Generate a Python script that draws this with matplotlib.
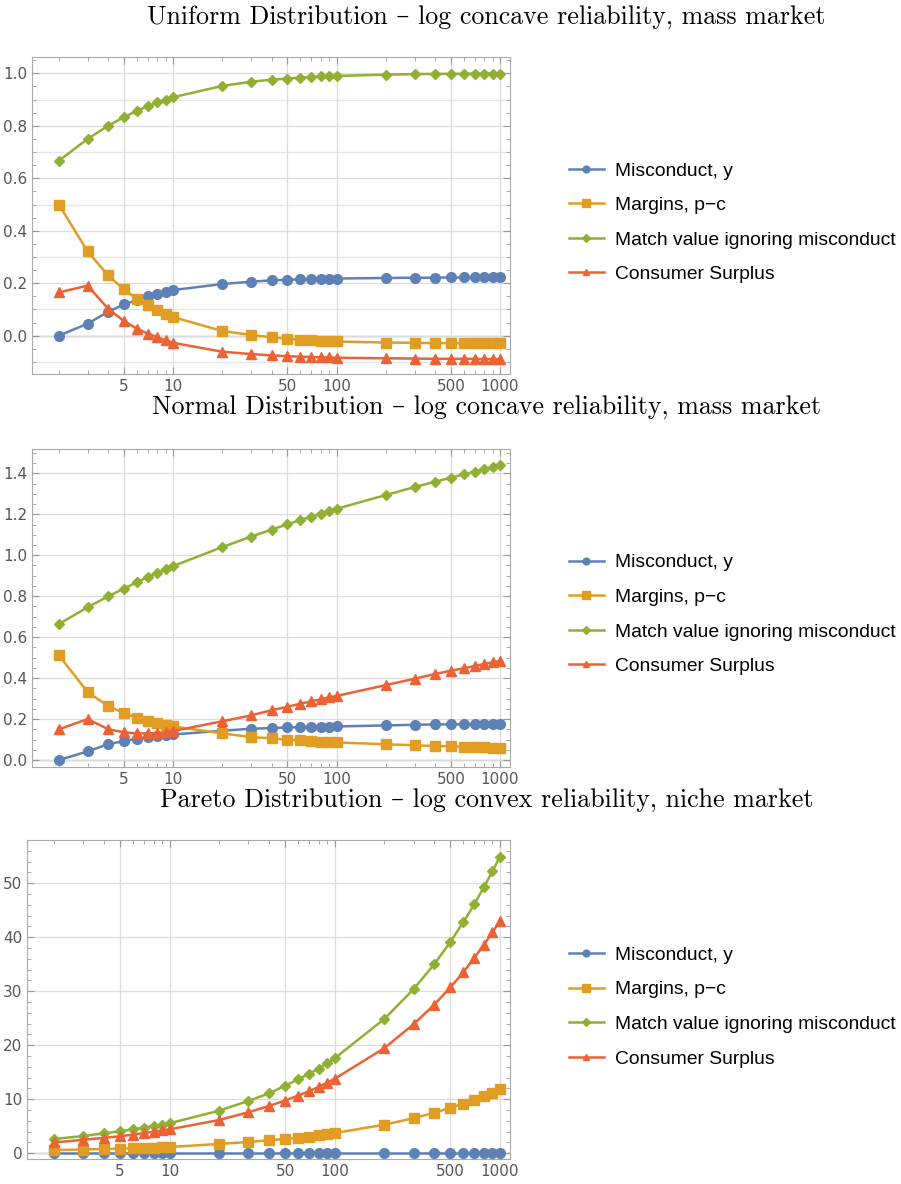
import matplotlib
matplotlib.use("Agg")
import matplotlib.pyplot as plt
from matplotlib.ticker import FixedLocator, NullFormatter, MultipleLocator

n = [2, 3, 4, 5, 6, 7, 8, 9, 10, 20, 30, 40, 50, 60, 70, 80, 90, 100,
     200, 300, 400, 500, 600, 700, 800, 900, 1000]

# Uniform distribution
uni_misconduct = [0.0, 0.046, 0.091, 0.119, 0.136, 0.150, 0.159, 0.166, 0.174, 0.197,
                  0.206, 0.211, 0.213, 0.215, 0.216, 0.217, 0.218, 0.218, 0.220,
                  0.221, 0.221, 0.222, 0.222, 0.222, 0.222, 0.222, 0.222]
uni_margins = [0.5, 0.321, 0.23, 0.177, 0.14, 0.117, 0.098, 0.083, 0.071, 0.018,
               0.003, -0.006, -0.012, -0.015, -0.018, -0.019, -0.021, -0.022, -0.026,
               -0.027, -0.028, -0.028, -0.029, -0.029, -0.029, -0.029, -0.029]
uni_match = [0.667, 0.75, 0.8, 0.833, 0.857, 0.875, 0.889, 0.9, 0.909, 0.952,
             0.968, 0.976, 0.980, 0.984, 0.986, 0.988, 0.989, 0.990, 0.995,
             0.997, 0.998, 0.998, 0.998, 0.999, 0.999, 0.999, 0.999]
uni_cs = [0.165, 0.191, 0.103, 0.056, 0.027, 0.008, -0.006, -0.018, -0.027, -0.061,
          -0.070, -0.075, -0.078, -0.080, -0.081, -0.082, -0.083, -0.084, -0.086,
          -0.087, -0.088, -0.088, -0.088, -0.088, -0.089, -0.089, -0.089]

# Normal distribution
nor_misconduct = [0.0, 0.042, 0.077, 0.093, 0.104, 0.111, 0.116, 0.120, 0.125, 0.143,
                  0.153, 0.156, 0.159, 0.161, 0.162, 0.163, 0.163, 0.164, 0.169,
                  0.172, 0.174, 0.174, 0.175, 0.175, 0.176, 0.176, 0.176]
nor_margins = [0.511, 0.332, 0.264, 0.230, 0.207, 0.190, 0.179, 0.171, 0.164, 0.130,
               0.112, 0.106, 0.099, 0.096, 0.093, 0.090, 0.088, 0.086, 0.077,
               0.072, 0.068, 0.067, 0.065, 0.063, 0.062, 0.060, 0.060]
nor_match = [0.664, 0.746, 0.799, 0.837, 0.868, 0.894, 0.913, 0.931, 0.947, 1.040,
             1.091, 1.125, 1.151, 1.172, 1.188, 1.203, 1.216, 1.227, 1.294,
             1.333, 1.359, 1.379, 1.395, 1.408, 1.420, 1.429, 1.439]
nor_cs = [0.150, 0.200, 0.151, 0.135, 0.130, 0.130, 0.132, 0.135, 0.142, 0.189,
          0.218, 0.243, 0.260, 0.275, 0.287, 0.296, 0.306, 0.313, 0.366,
          0.397, 0.420, 0.436, 0.448, 0.459, 0.469, 0.477, 0.485]

# Pareto distribution
par_misconduct = [0.0] * 27
par_margins = [0.6, 0.7, 0.8, 0.86, 0.93, 1.0, 1.05, 1.1, 1.17, 1.73,
               2.1, 2.4, 2.65, 2.9, 3.1, 3.33, 3.5, 3.75, 5.3,
               6.5, 7.5, 8.4, 9.2, 9.95, 10.6, 11.25, 11.85]
par_match = [2.65, 3.2, 3.7, 4.07, 4.44, 4.75, 5.06, 5.3, 5.56, 7.9,
             9.7, 11.1, 12.5, 13.7, 14.75, 15.7, 16.7, 17.6, 24.9,
             30.4, 35.0, 39.1, 42.8, 46.1, 49.3, 52.2, 54.9]
par_cs = [2.0, 2.5, 2.85, 3.15, 3.46, 3.77, 4.0, 4.26, 4.44, 6.17,
          7.6, 8.77, 9.75, 10.7, 11.5, 12.3, 13.1, 13.8, 19.5,
          23.9, 27.5, 30.7, 33.5, 36.2, 38.6, 40.9, 43.0]

labels = ["Misconduct, y", "Margins, p\u2212c", "Match value ignoring misconduct",
          "Consumer Surplus"]
titles = ["Uniform Distribution \u2013 log concave reliability, mass market",
          "Normal Distribution \u2013 log concave reliability, mass market",
          "Pareto Distribution \u2013 log convex reliability, niche market"]

colors = ["#5E81B5", "#E19C24", "#8FB032", "#EB6235"]
markers = ["o", "s", "D", "^"]
msizes = [7, 7.5, 5.5, 7]

fig = plt.figure(figsize=(9.01, 11.84), dpi=100)

panels = [
    ([0.0355, 0.6841, 0.5305, 0.2677], [uni_misconduct, uni_margins, uni_match, uni_cs],
     (-0.146, 1.062), 0.2, 0.05, 0.812),
    ([0.0355, 0.3522, 0.5305, 0.2686], [nor_misconduct, nor_margins, nor_match, nor_cs],
     (-0.034, 1.519), 0.2, 0.05, 0.481),
    ([0.0300, 0.0211, 0.5360, 0.2694], [par_misconduct, par_margins, par_match, par_cs],
     (-1.06, 58.0), 10, 2, 0.1495),
]
title_y = [0.9856, 0.656, 0.324]

xmaj = [5, 10, 50, 100, 500, 1000]
xmin = [2, 3, 4, 6, 7, 8, 9, 20, 30, 40, 60, 70, 80, 90, 200, 300, 400, 600, 700, 800, 900]

for i, (pos, series, ylim, ymaj, yminor, leg_y) in enumerate(panels):
    ax = fig.add_axes(pos)
    handles = []
    for s, c, m, ms, lab in zip(series, colors, markers, msizes, labels):
        h, = ax.plot(n, s, color=c, marker=m, markersize=ms, linewidth=1.8,
                     label=lab, zorder=3, clip_on=False)
        handles.append(h)
    ax.set_xscale("log")
    ax.set_xlim(1.37, 1150)
    ax.set_ylim(*ylim)
    ax.xaxis.set_major_locator(FixedLocator(xmaj))
    ax.xaxis.set_minor_locator(FixedLocator(xmin))
    ax.xaxis.set_minor_formatter(NullFormatter())
    ax.set_xticklabels([str(v) for v in xmaj])
    ax.yaxis.set_major_locator(MultipleLocator(ymaj))
    ax.yaxis.set_minor_locator(MultipleLocator(yminor))
    if i < 2:
        ax.yaxis.set_major_formatter(plt.FormatStrFormatter("%.1f"))
    ax.tick_params(which="both", direction="in", top=True, right=True,
                   colors="#999999", labelcolor="#555555", labelsize=11)
    ax.tick_params(which="major", length=5)
    ax.tick_params(which="minor", length=3)
    ax.grid(True, which="major", color="#dcdcdc", linewidth=0.9, zorder=0)
    if i == 0:
        # lighter lines between the labelled values
        for v in [-0.1, 0.1, 0.3, 0.5, 0.7, 0.9]:
            ax.axhline(v, color="#e6e6e6", linewidth=0.9, zorder=0)
    ax.axhline(0, color="#aaaaaa", linewidth=1.0, zorder=1)
    for sp in ax.spines.values():
        sp.set_color("#aaaaaa")
    fig.text(0.54, title_y[i], titles[i], ha="center", va="center", fontsize=18.7,
             family=["cmr10", "DejaVu Serif"])
    fig.legend(handles=handles, loc="center left", bbox_to_anchor=(0.623, leg_y),
               frameon=False, prop={"family": "Liberation Sans", "size": 13.9},
               handlelength=1.8, handletextpad=0.6, labelspacing=0.88,
               borderaxespad=0, markerscale=0.7)

fig.savefig("out.png", dpi=100)
